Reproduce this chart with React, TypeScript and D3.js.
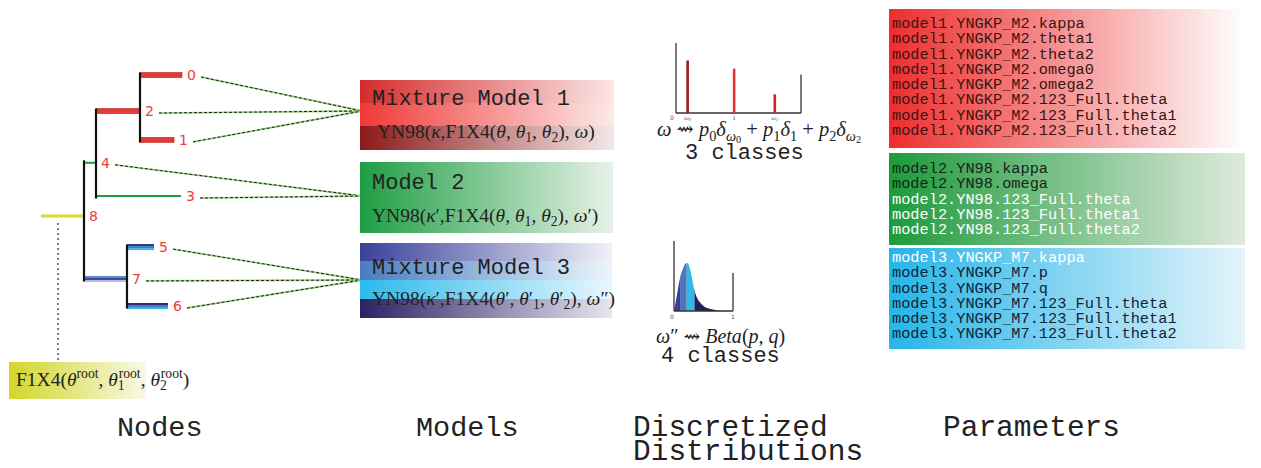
import * as d3 from 'd3';

const W = 1261;
const H = 468;
const MONO = '"Liberation Mono", "DejaVu Sans Mono", monospace';
const SERIF = '"Liberation Serif", "DejaVu Serif", serif';
const SANS = '"DejaVu Sans", sans-serif';

// ---- tree (node order: root first) ----
const treeNodes = ['8', '4', '2', '0', '1', '3', '7', '5', '6'];
const treeParents = ['', '8', '4', '2', '2', '4', '8', '7', '7'];
const branchLengths = [0.43, 0.12, 0.44, 0.42, 0.34, 0.85, 0.43, 0.27, 0.41];
const nodeRows = [6.1, 3.8, 1.56, 0, 2.81, 5.24, 8.83, 7.45, 10];
const nodeModels = [0, 2, 1, 1, 1, 2, 3, 3, 3]; // 0 = root

// ---- models ----
const modelTitles = ['Mixture Model 1', 'Model 2', 'Mixture Model 3'];

// ---- discretized distributions ----
const omegaCats = ['ω0', '1', 'ω2'];
const omegaValues = [0.2, 1, 1.7];
const omegaProbs = [0.45, 0.38, 0.16];
const betaX = [0, 0.02, 0.05, 0.08, 0.11, 0.15, 0.19, 0.22, 0.25, 0.28, 0.31, 0.35, 0.4, 0.45, 0.5, 0.56, 0.62, 0.7, 0.8, 0.9, 1];
const betaDensity = [0, 0.3, 0.8, 1.3, 1.75, 2.1, 2.35, 2.4, 2.3, 2.0, 1.55, 1.0, 0.6, 0.4, 0.25, 0.15, 0.1, 0.05, 0.015, 0, 0];
const betaCuts = [0, 0.114, 0.216, 0.347, 1];

// ---- parameters ----
const params1 = [
  'model1.YNGKP_M2.kappa',
  'model1.YNGKP_M2.theta1',
  'model1.YNGKP_M2.theta2',
  'model1.YNGKP_M2.omega0',
  'model1.YNGKP_M2.omega2',
  'model1.YNGKP_M2.123_Full.theta',
  'model1.YNGKP_M2.123_Full.theta1',
  'model1.YNGKP_M2.123_Full.theta2',
];
const params2 = [
  'model2.YN98.kappa',
  'model2.YN98.omega',
  'model2.YN98.123_Full.theta',
  'model2.YN98.123_Full.theta1',
  'model2.YN98.123_Full.theta2',
];
const params3 = [
  'model3.YNGKP_M7.kappa',
  'model3.YNGKP_M7.p',
  'model3.YNGKP_M7.q',
  'model3.YNGKP_M7.123_Full.theta',
  'model3.YNGKP_M7.123_Full.theta1',
  'model3.YNGKP_M7.123_Full.theta2',
];
const paramLists = [params1, params2, params3];
const paramLight = [[], [2, 3, 4], [0]];

const sectionLabels = ['Nodes', 'Models', 'Discretized\nDistributions', 'Parameters'];

// ---- math text ----
type Part = { t: string; i?: boolean; sh?: number; fs?: number; dx?: number };
const SUB = 0.22;
const SUB2 = 0.34;
const SUP = -0.42;
const th = (s: string): Part[] => [{ t: 'θ', i: true }, ...(s ? [{ t: s, sh: SUB, fs: 0.7 }] : [])];

const formulas: Part[][] = [
  [{ t: 'YN98(' }, { t: 'κ', i: true }, { t: ',F1X4(' }, ...th(''), { t: ', ' }, ...th('1'), { t: ', ' }, ...th('2'), { t: '), ' }, { t: 'ω', i: true }, { t: ')' }],
  [{ t: 'YN98(' }, { t: 'κ', i: true }, { t: '′,F1X4(' }, ...th(''), { t: ', ' }, ...th('1'), { t: ', ' }, ...th('2'), { t: '), ' }, { t: 'ω', i: true }, { t: '′)' }],
  [{ t: 'YN98(' }, { t: 'κ', i: true }, { t: '′,F1X4(' }, { t: 'θ', i: true }, { t: '′, ' }, { t: 'θ', i: true }, { t: '′' }, { t: '1', sh: SUB, fs: 0.7 }, { t: ', ' }, { t: 'θ', i: true }, { t: '′' }, { t: '2', sh: SUB, fs: 0.7 }, { t: '), ' }, { t: 'ω', i: true }, { t: '″)' }],
];
const rootFormula: Part[] = [
  { t: 'F1X4(' }, { t: 'θ', i: true }, { t: 'root', sh: SUP, fs: 0.7 }, { t: ', ' },
  { t: 'θ', i: true }, { t: '1', sh: SUB, fs: 0.7 }, { t: 'root', sh: SUP, fs: 0.7, dx: -6 }, { t: ', ' },
  { t: 'θ', i: true }, { t: '2', sh: SUB, fs: 0.7 }, { t: 'root', sh: SUP, fs: 0.7, dx: -6 }, { t: ')' },
];
const omegaFormula: Part[] = [
  { t: 'ω', i: true }, { t: ' ⇝ ' }, { t: 'p', i: true }, { t: '0', sh: SUB, fs: 0.7 }, { t: 'δ', i: true },
  { t: 'ω', i: true, sh: SUB, fs: 0.7 }, { t: '0', sh: SUB2, fs: 0.5 }, { t: ' + ' },
  { t: 'p', i: true }, { t: '1', sh: SUB, fs: 0.7 }, { t: 'δ', i: true }, { t: '1', sh: SUB, fs: 0.7 }, { t: ' + ' },
  { t: 'p', i: true }, { t: '2', sh: SUB, fs: 0.7 }, { t: 'δ', i: true },
  { t: 'ω', i: true, sh: SUB, fs: 0.7 }, { t: '2', sh: SUB2, fs: 0.5 },
];
const betaFormula: Part[] = [{ t: 'ω', i: true }, { t: '″ ⇝ ' }, { t: 'Beta', i: true }, { t: '(' }, { t: 'p, q', i: true }, { t: ')' }];

function MathText({ x, y, size, parts, fill = '#222' }: { x: number; y: number; size: number; parts: Part[]; fill?: string }) {
  let cur = 0;
  return (
    <text x={x} y={y} fontFamily={SERIF} fontSize={size} fill={fill}>
      {parts.map((p, k) => {
        const s = (p.sh ?? 0) * size;
        const dy = s - cur;
        cur = s;
        return (
          <tspan key={k} dy={dy} dx={p.dx} fontStyle={p.i ? 'italic' : undefined} fontSize={p.fs ? size * p.fs : undefined}>
            {p.t}
          </tspan>
        );
      })}
    </text>
  );
}

// ---- layout / styles ----
const modelBoxes = [
  { x: 360, y: 80, w: 254, titleY: 105, fX: 377, fY: 138, anchorY: 111,
    bands: [{ h: 23, c: ['#d42c2c', '#fbe6e6'] }, { h: 23, c: ['#ef3a36', '#fde9e9'] }, { h: 24, c: ['#8c1a1a', '#f3e8e8'] }] },
  { x: 360, y: 162, w: 253, titleY: 189, fX: 372, fY: 222, anchorY: 196,
    bands: [{ h: 71, c: ['#1f9e44', '#e8f2e8'] }] },
  { x: 360, y: 243, w: 252, titleY: 274, fX: 372, fY: 305, anchorY: 280,
    bands: [{ h: 18, c: ['#3a419a', '#f1f1f8'] }, { h: 19, c: ['#4a7cc0', '#ebf5fc'] }, { h: 19, c: ['#2cbaec', '#e8f7fd'] }, { h: 19, c: ['#2b2266', '#e6e6f0'] }] },
];
const paramBoxes = [
  { y: 9, h: 139, pad: 19, c: ['#ee2d2d', '#ffffff'], dark: '#3a1414' },
  { y: 153, h: 92, pad: 20, c: ['#1e9a3c', '#dfeadd'], dark: '#14261a' },
  { y: 248, h: 101, pad: 14, c: ['#26b5e8', '#e4f4fb'], dark: '#10243a' },
];
const modelColors = ['#d4dc2e', '#e53935', '#1f9a45', '#3d5fb3'];
const stripes = ['#2a2f78', '#4a78c0', '#35b5e5'];

export default function App() {
  // tree positions
  const idx = new Map(treeNodes.map((n, i) => [n, i]));
  const depth: number[] = [];
  treeNodes.forEach((n, i) => {
    const p = treeParents[i];
    depth[i] = (p ? depth[idx.get(p)!] : 0) + branchLengths[i];
  });
  const tx = d3.scaleLinear().domain([0, 1.5]).range([41, 191]);
  const ty = d3.scaleLinear().domain([0, 10]).range([75, 306]);
  const nx = (i: number) => tx(depth[i]);
  const ny = (i: number) => ty(nodeRows[i]);
  const px = (i: number) => (treeParents[i] ? nx(idx.get(treeParents[i])!) : tx(0));

  // omega chart
  const ox = d3.scaleLinear().domain([0, 2.15]).range([676, 801]);
  const oy = d3.scaleLinear().domain([0, 0.6]).range([113, 43]);
  const omegaFill = ['#9b1c1c', '#e83030', '#d42020'];

  // beta chart
  const bx = d3.scaleLinear().domain([0, 1]).range([674, 733]);
  const by = d3.scaleLinear().domain([0, 3.5]).range([311, 241]);
  const betaPts = betaX.map((x, i) => [x, betaDensity[i]] as [number, number]);
  const area = d3.area<[number, number]>().x((d) => bx(d[0])).y0(by(0)).y1((d) => by(d[1])).curve(d3.curveMonotoneX)(betaPts) || '';
  const betaFill = ['#363d9c', '#4a78bb', '#2fb8e8', '#231f5c'];

  return (
    <svg width={W} height={H} style={{ position: 'absolute', left: 0, top: 0, background: '#fff' }}>
      <defs>
        {modelBoxes.map((b, i) =>
          b.bands.map((band, j) => (
            <linearGradient key={`m${i}${j}`} id={`m${i}${j}`} x1="0" x2="1" y1="0" y2="0">
              <stop offset="0" stopColor={band.c[0]} />
              <stop offset="1" stopColor={band.c[1]} />
            </linearGradient>
          )),
        )}
        {paramBoxes.map((b, i) => (
          <linearGradient key={`p${i}`} id={`p${i}`} x1="0" x2="1" y1="0" y2="0">
            <stop offset="0" stopColor={b.c[0]} />
            <stop offset="1" stopColor={b.c[1]} />
          </linearGradient>
        ))}
        <linearGradient id="rootg" x1="0" x2="1" y1="0" y2="0">
          <stop offset="0" stopColor="#d2d62a" />
          <stop offset="1" stopColor="#f8f9e6" />
        </linearGradient>
        {betaCuts.slice(1).map((c, k) => (
          <clipPath key={k} id={`bc${k}`}>
            <rect x={bx(betaCuts[k])} y={230} width={bx(c) - bx(betaCuts[k])} height={90} />
          </clipPath>
        ))}
      </defs>

      {/* root dotted line and root box */}
      <line x1={58} x2={58} y1={223} y2={360} stroke="#222" strokeWidth={1.2} strokeDasharray="2 3" />
      <rect x={9} y={362} width={137} height={37} fill="url(#rootg)" />
      <MathText x={16} y={386} size={19.5} parts={rootFormula} />

      {/* dashed links to models */}
      {treeNodes.map((n, i) => {
        if (!nodeModels[i]) return null;
        const b = modelBoxes[nodeModels[i] - 1];
        const x1 = nx(i) + 19;
        const y1 = ny(i) + 2;
        return (
          <g key={`l${n}`}>
            <line x1={x1} y1={y1} x2={b.x + 2} y2={b.anchorY} stroke="#9fd88a" strokeWidth={1.8} />
            <line x1={x1} y1={y1} x2={b.x + 2} y2={b.anchorY} stroke="#1a1a1a" strokeWidth={1} strokeDasharray="3 2" />
          </g>
        );
      })}

      {/* tree branches */}
      {treeNodes.map((n, i) => {
        const m = nodeModels[i];
        const x0 = px(i);
        const x1 = nx(i);
        const y = ny(i);
        if (m === 1)
          return <rect key={`b${n}`} x={x0} y={y - 2.5} width={x1 - x0} height={5} fill={modelColors[1]} stroke="#b42222" strokeWidth={0.6} />;
        if (m === 3)
          return (
            <g key={`b${n}`}>
              {(n === '7' ? ['#5b8ac8', '#3a45a0', '#b8bcdc'] : stripes).map((c, k) => (
                <rect key={k} x={x0} y={y - 3 + k * 2} width={x1 - x0} height={2} fill={c} />
              ))}
            </g>
          );
        return <line key={`b${n}`} x1={x0} x2={x1} y1={y} y2={y} stroke={modelColors[m]} strokeWidth={m === 0 ? 3 : 2} />;
      })}
      {treeNodes.map((n, i) => {
        const kids = treeNodes.map((_, j) => j).filter((j) => treeParents[j] === n);
        if (!kids.length) return null;
        const ys = kids.map(ny);
        return <line key={`v${n}`} x1={nx(i)} x2={nx(i)} y1={Math.min(...ys) - 2.5} y2={Math.max(...ys) + 2.5} stroke="#111" strokeWidth={2.2} />;
      })}
      {treeNodes.map((n, i) => (
        <text key={`t${n}`} x={nx(i) + 5} y={ny(i) + 5} fontFamily={SANS} fontSize={14} fill="#ee3b3b">
          {n}
        </text>
      ))}

      {/* model boxes */}
      {modelBoxes.map((b, i) => {
        let yy = b.y;
        return (
          <g key={`mb${i}`}>
            {b.bands.map((band, j) => {
              const r = <rect key={j} x={b.x} y={yy} width={b.w} height={band.h} fill={`url(#m${i}${j})`} />;
              yy += band.h;
              return r;
            })}
            <text x={372} y={b.titleY} fontFamily={MONO} fontSize={22} fill="#222">
              {modelTitles[i]}
            </text>
            <MathText x={b.fX} y={b.fY} size={19.5} parts={formulas[i]} />
          </g>
        );
      })}

      {/* omega discrete distribution */}
      <g>
        <line x1={ox(0)} x2={ox(0)} y1={oy(0)} y2={oy(0.6)} stroke="#333" strokeWidth={1.3} />
        <line x1={ox(0)} x2={ox(2.15)} y1={oy(0)} y2={oy(0)} stroke="#333" strokeWidth={1.3} />
        <line x1={ox(2.15)} x2={ox(2.15)} y1={oy(0)} y2={oy(0.33)} stroke="#333" strokeWidth={1.3} />
        {omegaValues.map((v, i) => (
          <rect key={i} x={ox(v) - 1.3} y={oy(omegaProbs[i])} width={2.6} height={oy(0) - oy(omegaProbs[i])} fill={omegaFill[i]} />
        ))}
        <text x={ox(0) - 4} y={oy(0) + 7} fontFamily={SANS} fontSize={6} fill="#555" textAnchor="middle">0</text>
        {omegaValues.map((v, i) => (
          <text key={i} x={ox(v)} y={oy(0) + 7} fontFamily={SERIF} fontSize={6.5} fill="#555" textAnchor="middle" fontStyle={i === 1 ? undefined : 'italic'}>
            {omegaCats[i][0]}
            {omegaCats[i].length > 1 && <tspan fontSize={4.5} dy={1}>{omegaCats[i].slice(1)}</tspan>}
          </text>
        ))}
        <MathText x={657} y={136} size={20.5} parts={omegaFormula} />
        <text x={685} y={159} fontFamily={MONO} fontSize={22} fill="#222">3 classes</text>
      </g>

      {/* beta distribution */}
      <g>
        {betaFill.map((c, k) => (
          <path key={k} d={area} fill={c} clipPath={`url(#bc${k})`} />
        ))}
        <line x1={bx(0)} x2={bx(0)} y1={by(0)} y2={by(3.5)} stroke="#333" strokeWidth={1.3} />
        <line x1={bx(0)} x2={bx(1)} y1={by(0)} y2={by(0)} stroke="#333" strokeWidth={1.3} />
        <line x1={bx(1)} x2={bx(1)} y1={by(0)} y2={by(1.9)} stroke="#333" strokeWidth={1.3} />
        <text x={bx(0) - 2} y={by(0) + 8} fontFamily={SANS} fontSize={6} fill="#555" textAnchor="middle">0</text>
        <text x={bx(1)} y={by(0) + 8} fontFamily={SANS} fontSize={6} fill="#555" textAnchor="middle">1</text>
        <MathText x={656} y={343} size={20} parts={betaFormula} />
        <text x={661} y={362} fontFamily={MONO} fontSize={22} fill="#222">4 classes</text>
      </g>

      {/* parameter boxes */}
      {paramBoxes.map((b, i) => (
        <g key={`pb${i}`}>
          <rect x={889} y={b.y} width={356} height={b.h} fill={`url(#p${i})`} />
          {paramLists[i].map((s, k) => (
            <text key={k} x={892} y={b.y + b.pad + k * 15.25} fontFamily={MONO} fontSize={15.3} fill={paramLight[i].includes(k) ? '#ffffff' : b.dark}>
              {s}
            </text>
          ))}
        </g>
      ))}

      {/* section labels */}
      {sectionLabels.map((s, i) => {
        const xs = [117, 416, 633, 943];
        const fs = [28.5, 28.5, 29.5, 29.5];
        return (
          <text key={s} x={xs[i]} y={436} fontFamily={MONO} fontSize={fs[i]} fill="#222">
            {s.split('\n').map((line, k) => (
              <tspan key={k} x={xs[i]} dy={k ? 24 : 0}>
                {line}
              </tspan>
            ))}
          </text>
        );
      })}
    </svg>
  );
}
